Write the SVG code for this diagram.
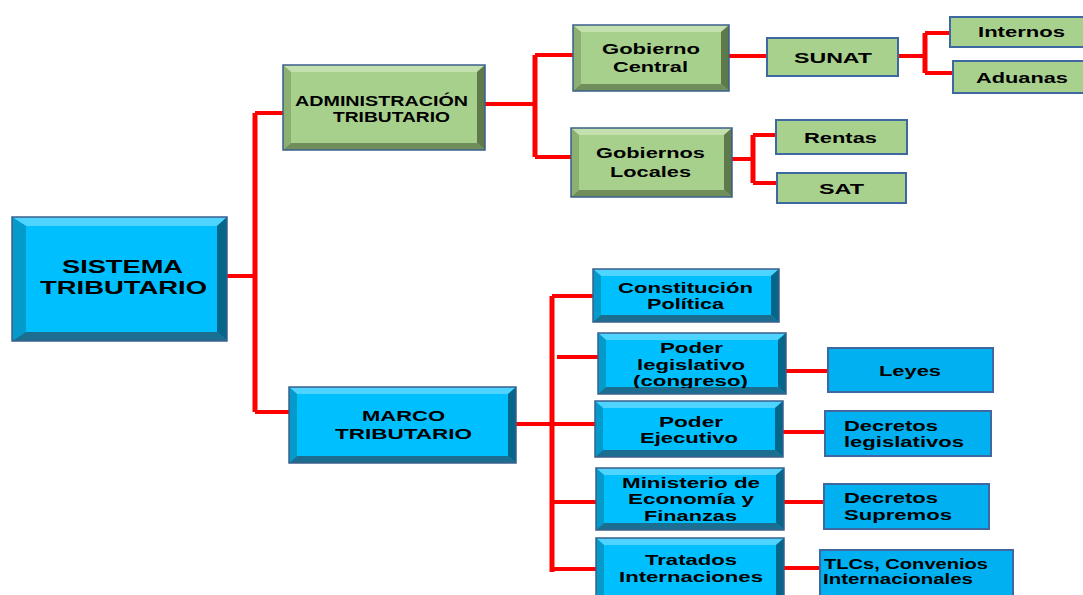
<svg xmlns="http://www.w3.org/2000/svg" width="1083" height="595" viewBox="0 0 1083 595">
<style>
text{font-family:"Liberation Sans",Arial,sans-serif;font-weight:bold;fill:#000;}
.t18{font-size:18px}.t14{font-size:14px}.t15{font-size:15px}
.bf{fill:#00BFFF}.bt{fill:#4FD3FF}.bl{fill:#049AC9}.br{fill:#05668A}.bb{fill:#1C6E90}
.gf{fill:#A8D08D}.gt{fill:#C4E0AF}.gl{fill:#8CAF72}.gr{fill:#5E7A4B}.gb{fill:#6F8E5B}
.edge{fill:none;stroke:#3A5F8C;stroke-width:1.5}
.fg{fill:#A9D18E;stroke:#3F67A0;stroke-width:2}
.fb{fill:#00B0F0;stroke:#3F67A0;stroke-width:2}
.c{fill:none;stroke:#FF0000;stroke-width:4}
.v{fill:none;stroke:#FF0000;stroke-width:5}
</style>
<defs>
<clipPath id="clipLeg"><rect x="598" y="333" width="188" height="55"/></clipPath>
</defs>
<rect width="1083" height="595" fill="#fff"/>

<g id="connectors">
<path class="c" d="M227 276H255"/>
<path class="v" d="M255 113V412"/>
<path class="c" d="M255 113H284M255 412H290"/>
<path class="c" d="M485 104H535M535 55H573M535 157H571"/>
<path class="v" d="M535 55V157"/>
<path class="c" d="M729 56H767"/>
<path class="c" d="M898 56H925M925 33H950M925 73H953"/>
<path class="v" d="M925 33V73"/>
<path class="c" d="M732 159H753M753 135H776M753 183H777"/>
<path class="v" d="M753 135V183"/>
<path class="c" d="M516 424H552"/>
<path class="v" d="M552 296V572"/>
<path class="c" d="M552 296H593M557 357H598M552 424H595M552 502H596M552 569H596"/>
<path class="c" d="M786 371H828M783 432H825M784 502H824M784 568H820"/>
</g>

<g id="sistema">
<rect class="bf" x="12" y="217" width="215" height="124"/>
<polygon class="bt" points="12,217 227,217 217,226 26,226"/>
<polygon class="bl" points="12,217 26,226 26,332 12,341"/>
<polygon class="br" points="227,217 227,341 217,332 217,226"/>
<polygon class="bb" points="12,341 26,332 217,332 227,341"/>
<rect class="edge" x="12" y="217" width="215" height="124"/>
<text class="t18" x="62" y="273" textLength="121" lengthAdjust="spacingAndGlyphs">SISTEMA</text>
<text class="t18" x="40" y="294" textLength="167" lengthAdjust="spacingAndGlyphs">TRIBUTARIO</text>
</g>

<g id="admin">
<rect class="gf" x="283" y="65" width="202" height="85"/>
<polygon class="gt" points="283,65 485,65 477,72 291,72"/>
<polygon class="gl" points="283,65 291,72 291,143 283,150"/>
<polygon class="gr" points="485,65 485,150 477,143 477,72"/>
<polygon class="gb" points="283,150 291,143 477,143 485,150"/>
<rect class="edge" x="283" y="65" width="202" height="85"/>
<text class="t14" x="295" y="106" textLength="173" lengthAdjust="spacingAndGlyphs">ADMINISTRACIÓN</text>
<text class="t14" x="333" y="122" textLength="117" lengthAdjust="spacingAndGlyphs">TRIBUTARIO</text>
</g>

<g id="gobcentral">
<rect class="gf" x="573" y="25" width="156" height="66"/>
<polygon class="gt" points="573,25 729,25 721,32 581,32"/>
<polygon class="gl" points="573,25 581,32 581,84 573,91"/>
<polygon class="gr" points="729,25 729,91 721,84 721,32"/>
<polygon class="gb" points="573,91 581,84 721,84 729,91"/>
<rect class="edge" x="573" y="25" width="156" height="66"/>
<text class="t15" x="602" y="54" textLength="98" lengthAdjust="spacingAndGlyphs">Gobierno</text>
<text class="t15" x="613" y="72" textLength="75" lengthAdjust="spacingAndGlyphs">Central</text>
</g>

<g id="goblocales">
<rect class="gf" x="571" y="128" width="161" height="69"/>
<polygon class="gt" points="571,128 732,128 724,135 579,135"/>
<polygon class="gl" points="571,128 579,135 579,190 571,197"/>
<polygon class="gr" points="732,128 732,197 724,190 724,135"/>
<polygon class="gb" points="571,197 579,190 724,190 732,197"/>
<rect class="edge" x="571" y="128" width="161" height="69"/>
<text class="t15" x="596" y="158" textLength="109" lengthAdjust="spacingAndGlyphs">Gobiernos</text>
<text class="t15" x="610" y="177" textLength="81" lengthAdjust="spacingAndGlyphs">Locales</text>
</g>

<g id="sunat">
<rect class="fg" x="767" y="38" width="131" height="38"/>
<text class="t15" x="794" y="63" textLength="78" lengthAdjust="spacingAndGlyphs">SUNAT</text>
</g>
<g id="internos">
<rect class="fg" x="950" y="17" width="136" height="30"/>
<text class="t15" x="978" y="37" textLength="87" lengthAdjust="spacingAndGlyphs">Internos</text>
</g>
<g id="aduanas">
<rect class="fg" x="953" y="61" width="133" height="32"/>
<text class="t15" x="976" y="83" textLength="92" lengthAdjust="spacingAndGlyphs">Aduanas</text>
</g>
<g id="rentas">
<rect class="fg" x="776" y="120" width="131" height="34"/>
<text class="t15" x="804" y="143" textLength="73" lengthAdjust="spacingAndGlyphs">Rentas</text>
</g>
<g id="sat">
<rect class="fg" x="777" y="173" width="129" height="30"/>
<text class="t15" x="819" y="194" textLength="45" lengthAdjust="spacingAndGlyphs">SAT</text>
</g>

<g id="marco">
<rect class="bf" x="289" y="387" width="227" height="76"/>
<polygon class="bt" points="289,387 516,387 508,394 297,394"/>
<polygon class="bl" points="289,387 297,394 297,456 289,463"/>
<polygon class="br" points="516,387 516,463 508,456 508,394"/>
<polygon class="bb" points="289,463 297,456 508,456 516,463"/>
<rect class="edge" x="289" y="387" width="227" height="76"/>
<text class="t15" x="362" y="421" textLength="83" lengthAdjust="spacingAndGlyphs">MARCO</text>
<text class="t15" x="335" y="439" textLength="137" lengthAdjust="spacingAndGlyphs">TRIBUTARIO</text>
</g>

<g id="constitucion">
<rect class="bf" x="593" y="269" width="186" height="53"/>
<polygon class="bt" points="593,269 779,269 771,276 601,276"/>
<polygon class="bl" points="593,269 601,276 601,315 593,322"/>
<polygon class="br" points="779,269 779,322 771,315 771,276"/>
<polygon class="bb" points="593,322 601,315 771,315 779,322"/>
<rect class="edge" x="593" y="269" width="186" height="53"/>
<text class="t14" x="618" y="293" textLength="135" lengthAdjust="spacingAndGlyphs">Constitución</text>
<text class="t14" x="647" y="309" textLength="77" lengthAdjust="spacingAndGlyphs">Política</text>
</g>

<g id="legislativo">
<rect class="bf" x="598" y="333" width="188" height="61"/>
<polygon class="bt" points="598,333 786,333 778,340 606,340"/>
<polygon class="bl" points="598,333 606,340 606,387 598,394"/>
<polygon class="br" points="786,333 786,394 778,387 778,340"/>
<polygon class="bb" points="598,394 606,387 778,387 786,394"/>
<rect class="edge" x="598" y="333" width="188" height="61"/>
<g clip-path="url(#clipLeg)">
<text class="t15" x="660" y="353" textLength="63" lengthAdjust="spacingAndGlyphs">Poder</text>
<text class="t15" x="637" y="370" textLength="108" lengthAdjust="spacingAndGlyphs">legislativo</text>
<text class="t15" x="633" y="386" textLength="115" lengthAdjust="spacingAndGlyphs">(congreso)</text>
</g>
</g>

<g id="ejecutivo">
<rect class="bf" x="595" y="401" width="188" height="56"/>
<polygon class="bt" points="595,401 783,401 775,408 603,408"/>
<polygon class="bl" points="595,401 603,408 603,450 595,457"/>
<polygon class="br" points="783,401 783,457 775,450 775,408"/>
<polygon class="bb" points="595,457 603,450 775,450 783,457"/>
<rect class="edge" x="595" y="401" width="188" height="56"/>
<text class="t15" x="659" y="427" textLength="64" lengthAdjust="spacingAndGlyphs">Poder</text>
<text class="t15" x="640" y="443" textLength="98" lengthAdjust="spacingAndGlyphs">Ejecutivo</text>
</g>

<g id="ministerio">
<rect class="bf" x="596" y="468" width="188" height="62"/>
<polygon class="bt" points="596,468 784,468 776,475 604,475"/>
<polygon class="bl" points="596,468 604,475 604,523 596,530"/>
<polygon class="br" points="784,468 784,530 776,523 776,475"/>
<polygon class="bb" points="596,530 604,523 776,523 784,530"/>
<rect class="edge" x="596" y="468" width="188" height="62"/>
<text class="t15" x="622" y="488" textLength="138" lengthAdjust="spacingAndGlyphs">Ministerio de</text>
<text class="t15" x="628" y="504" textLength="126" lengthAdjust="spacingAndGlyphs">Economía y</text>
<text class="t15" x="644" y="521" textLength="93" lengthAdjust="spacingAndGlyphs">Finanzas</text>
</g>

<g id="tratados">
<rect class="bf" x="596" y="538" width="188" height="64"/>
<polygon class="bt" points="596,538 784,538 776,545 604,545"/>
<polygon class="bl" points="596,538 604,545 604,595 596,602"/>
<polygon class="br" points="784,538 784,602 776,595 776,545"/>
<rect class="edge" x="596" y="538" width="188" height="64"/>
<text class="t15" x="645" y="565" textLength="92" lengthAdjust="spacingAndGlyphs">Tratados</text>
<text class="t15" x="619" y="582" textLength="144" lengthAdjust="spacingAndGlyphs">Internaciones</text>
</g>

<g id="leyes">
<rect class="fb" x="828" y="348" width="165" height="44"/>
<text class="t15" x="879" y="376" textLength="62" lengthAdjust="spacingAndGlyphs">Leyes</text>
</g>
<g id="decretosleg">
<rect class="fb" x="825" y="411" width="166" height="45"/>
<text class="t15" x="844" y="431" textLength="94" lengthAdjust="spacingAndGlyphs">Decretos</text>
<text class="t15" x="844" y="447" textLength="120" lengthAdjust="spacingAndGlyphs">legislativos</text>
</g>
<g id="decretossup">
<rect class="fb" x="824" y="484" width="165" height="45"/>
<text class="t15" x="844" y="503" textLength="94" lengthAdjust="spacingAndGlyphs">Decretos</text>
<text class="t15" x="844" y="520" textLength="108" lengthAdjust="spacingAndGlyphs">Supremos</text>
</g>
<g id="tlcs">
<rect class="fb" x="820" y="550" width="193" height="52"/>
<text class="t15" x="824" y="569" textLength="164" lengthAdjust="spacingAndGlyphs">TLCs, Convenios</text>
<text class="t15" x="823" y="584" textLength="150" lengthAdjust="spacingAndGlyphs">Internacionales</text>
</g>
</svg>
